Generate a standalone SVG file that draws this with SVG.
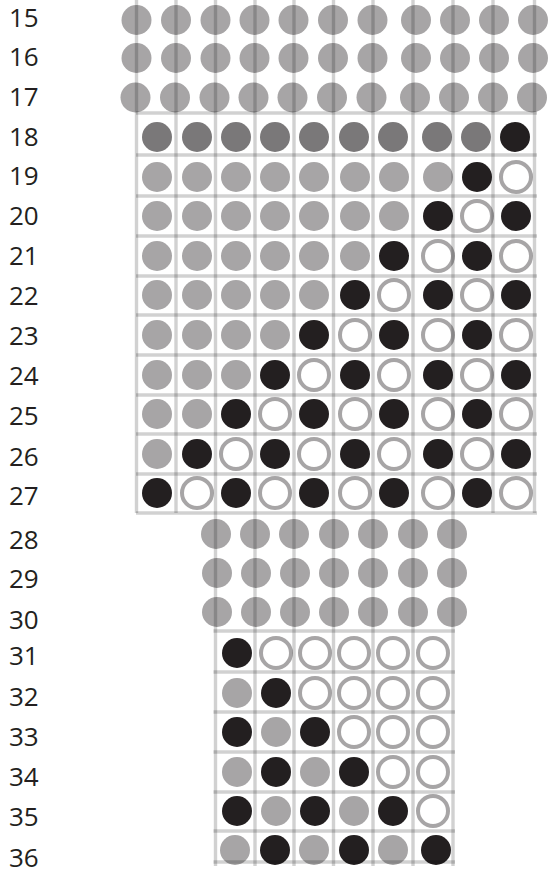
<svg xmlns="http://www.w3.org/2000/svg" width="548" height="874" viewBox="0 0 548 874">
<style>
.lbl{font-family:"Open Sans","Noto Sans","Liberation Sans",sans-serif;font-size:26px;fill:#231f20}
.g{fill:#a7a5a6}
.d{fill:#7a7879}
.b{fill:#231f20}
.o{fill:#ffffff;stroke:#a7a5a6;stroke-width:4}
.ln{stroke:#000000;stroke-opacity:0.18;stroke-width:3.4;fill:none}
</style>
<rect width="548" height="874" fill="#ffffff"/>
<g id="labels">
<text class="lbl" x="9" y="27">15</text>
<text class="lbl" x="9" y="66">16</text>
<text class="lbl" x="9" y="106">17</text>
<text class="lbl" x="9" y="146">18</text>
<text class="lbl" x="9" y="185">19</text>
<text class="lbl" x="9" y="225">20</text>
<text class="lbl" x="9" y="265">21</text>
<text class="lbl" x="9" y="305">22</text>
<text class="lbl" x="9" y="345">23</text>
<text class="lbl" x="9" y="385">24</text>
<text class="lbl" x="9" y="425">25</text>
<text class="lbl" x="9" y="466">26</text>
<text class="lbl" x="9" y="505">27</text>
<text class="lbl" x="9" y="549">28</text>
<text class="lbl" x="9" y="588">29</text>
<text class="lbl" x="9" y="629">30</text>
<text class="lbl" x="9" y="665">31</text>
<text class="lbl" x="9" y="706">32</text>
<text class="lbl" x="9" y="746">33</text>
<text class="lbl" x="9" y="786">34</text>
<text class="lbl" x="9" y="826">35</text>
<text class="lbl" x="9" y="867">36</text>
</g>
<g id="top-rows">
<g id="row15">
<circle class="g" cx="136.5" cy="20" r="15"/><circle class="g" cx="176" cy="20" r="15"/><circle class="g" cx="215.5" cy="20" r="15"/><circle class="g" cx="254.5" cy="20" r="15"/><circle class="g" cx="293.5" cy="20" r="15"/><circle class="g" cx="333" cy="20" r="15"/><circle class="g" cx="372.5" cy="20" r="15"/><circle class="g" cx="416" cy="20" r="15"/><circle class="g" cx="455" cy="20" r="15"/><circle class="g" cx="494" cy="20" r="15"/><circle class="g" cx="533" cy="20" r="15"/>
</g>
<g id="row16">
<circle class="g" cx="136.5" cy="58" r="15"/><circle class="g" cx="176" cy="58" r="15"/><circle class="g" cx="215.5" cy="58" r="15"/><circle class="g" cx="254.5" cy="58" r="15"/><circle class="g" cx="293.5" cy="58" r="15"/><circle class="g" cx="333" cy="58" r="15"/><circle class="g" cx="372.5" cy="58" r="15"/><circle class="g" cx="416" cy="58" r="15"/><circle class="g" cx="455" cy="58" r="15"/><circle class="g" cx="494" cy="58" r="15"/><circle class="g" cx="533" cy="58" r="15"/>
</g>
<g id="row17">
<circle class="g" cx="135.5" cy="97.5" r="15"/><circle class="g" cx="175" cy="97.5" r="15"/><circle class="g" cx="214.5" cy="97.5" r="15"/><circle class="g" cx="253.5" cy="97.5" r="15"/><circle class="g" cx="292.5" cy="97.5" r="15"/><circle class="g" cx="332" cy="97.5" r="15"/><circle class="g" cx="371.5" cy="97.5" r="15"/><circle class="g" cx="415" cy="97.5" r="15"/><circle class="g" cx="454" cy="97.5" r="15"/><circle class="g" cx="493" cy="97.5" r="15"/><circle class="g" cx="532" cy="97.5" r="15"/>
</g>
</g>
<g id="upper-grid">
<g id="row18">
<circle class="d" cx="157" cy="137" r="15"/><circle class="d" cx="197" cy="137" r="15"/><circle class="d" cx="236" cy="137" r="15"/><circle class="d" cx="275" cy="137" r="15"/><circle class="d" cx="314" cy="137" r="15"/><circle class="d" cx="354" cy="137" r="15"/><circle class="d" cx="393" cy="137" r="15"/><circle class="d" cx="437" cy="137" r="15"/><circle class="d" cx="476" cy="137" r="15"/><circle class="b" cx="515" cy="137" r="15"/>
</g>
<g id="row19">
<circle class="g" cx="157" cy="177" r="15"/><circle class="g" cx="197" cy="177" r="15"/><circle class="g" cx="236" cy="177" r="15"/><circle class="g" cx="275" cy="177" r="15"/><circle class="g" cx="314" cy="177" r="15"/><circle class="g" cx="355" cy="177" r="15"/><circle class="g" cx="394" cy="177" r="15"/><circle class="g" cx="438" cy="177" r="15"/><circle class="b" cx="477" cy="177" r="15"/><circle class="o" cx="516" cy="177" r="15"/>
</g>
<g id="row20">
<circle class="g" cx="157" cy="216" r="15"/><circle class="g" cx="197" cy="216" r="15"/><circle class="g" cx="236" cy="216" r="15"/><circle class="g" cx="275" cy="216" r="15"/><circle class="g" cx="314" cy="216" r="15"/><circle class="g" cx="355" cy="216" r="15"/><circle class="g" cx="394" cy="216" r="15"/><circle class="b" cx="438" cy="216" r="15"/><circle class="o" cx="477" cy="216" r="15"/><circle class="b" cx="516" cy="216" r="15"/>
</g>
<g id="row21">
<circle class="g" cx="157" cy="256" r="15"/><circle class="g" cx="197" cy="256" r="15"/><circle class="g" cx="236" cy="256" r="15"/><circle class="g" cx="275" cy="256" r="15"/><circle class="g" cx="314" cy="256" r="15"/><circle class="g" cx="355" cy="256" r="15"/><circle class="b" cx="394" cy="256" r="15"/><circle class="o" cx="438" cy="256" r="15"/><circle class="b" cx="477" cy="256" r="15"/><circle class="o" cx="516" cy="256" r="15"/>
</g>
<g id="row22">
<circle class="g" cx="157" cy="295" r="15"/><circle class="g" cx="197" cy="295" r="15"/><circle class="g" cx="236" cy="295" r="15"/><circle class="g" cx="275" cy="295" r="15"/><circle class="g" cx="314" cy="295" r="15"/><circle class="b" cx="355" cy="295" r="15"/><circle class="o" cx="394" cy="295" r="15"/><circle class="b" cx="438" cy="295" r="15"/><circle class="o" cx="477" cy="295" r="15"/><circle class="b" cx="516" cy="295" r="15"/>
</g>
<g id="row23">
<circle class="g" cx="157" cy="335" r="15"/><circle class="g" cx="197" cy="335" r="15"/><circle class="g" cx="236" cy="335" r="15"/><circle class="g" cx="275" cy="335" r="15"/><circle class="b" cx="314" cy="335" r="15"/><circle class="o" cx="355" cy="335" r="15"/><circle class="b" cx="394" cy="335" r="15"/><circle class="o" cx="438" cy="335" r="15"/><circle class="b" cx="477" cy="335" r="15"/><circle class="o" cx="516" cy="335" r="15"/>
</g>
<g id="row24">
<circle class="g" cx="157" cy="375" r="15"/><circle class="g" cx="197" cy="375" r="15"/><circle class="g" cx="236" cy="375" r="15"/><circle class="b" cx="275" cy="375" r="15"/><circle class="o" cx="314" cy="375" r="15"/><circle class="b" cx="355" cy="375" r="15"/><circle class="o" cx="394" cy="375" r="15"/><circle class="b" cx="438" cy="375" r="15"/><circle class="o" cx="477" cy="375" r="15"/><circle class="b" cx="516" cy="375" r="15"/>
</g>
<g id="row25">
<circle class="g" cx="157" cy="414" r="15"/><circle class="g" cx="197" cy="414" r="15"/><circle class="b" cx="236" cy="414" r="15"/><circle class="o" cx="275" cy="414" r="15"/><circle class="b" cx="314" cy="414" r="15"/><circle class="o" cx="355" cy="414" r="15"/><circle class="b" cx="394" cy="414" r="15"/><circle class="o" cx="438" cy="414" r="15"/><circle class="b" cx="477" cy="414" r="15"/><circle class="o" cx="516" cy="414" r="15"/>
</g>
<g id="row26">
<circle class="g" cx="157" cy="454" r="15"/><circle class="b" cx="197" cy="454" r="15"/><circle class="o" cx="236" cy="454" r="15"/><circle class="b" cx="275" cy="454" r="15"/><circle class="o" cx="314" cy="454" r="15"/><circle class="b" cx="355" cy="454" r="15"/><circle class="o" cx="394" cy="454" r="15"/><circle class="b" cx="438" cy="454" r="15"/><circle class="o" cx="477" cy="454" r="15"/><circle class="b" cx="516" cy="454" r="15"/>
</g>
<g id="row27">
<circle class="b" cx="157" cy="493" r="15"/><circle class="o" cx="197" cy="493" r="15"/><circle class="b" cx="236" cy="493" r="15"/><circle class="o" cx="275" cy="493" r="15"/><circle class="b" cx="314" cy="493" r="15"/><circle class="o" cx="355" cy="493" r="15"/><circle class="b" cx="394" cy="493" r="15"/><circle class="o" cx="438" cy="493" r="15"/><circle class="b" cx="477" cy="493" r="15"/><circle class="o" cx="516" cy="493" r="15"/>
</g>
</g>
<g id="middle-rows">
<g id="row28">
<circle class="g" cx="216" cy="534" r="15"/><circle class="g" cx="255" cy="534" r="15"/><circle class="g" cx="294" cy="534" r="15"/><circle class="g" cx="334" cy="534" r="15"/><circle class="g" cx="373" cy="534" r="15"/><circle class="g" cx="413" cy="534" r="15"/><circle class="g" cx="452" cy="534" r="15"/>
</g>
<g id="row29">
<circle class="g" cx="217" cy="573" r="15"/><circle class="g" cx="256" cy="573" r="15"/><circle class="g" cx="295" cy="573" r="15"/><circle class="g" cx="334" cy="573" r="15"/><circle class="g" cx="373" cy="573" r="15"/><circle class="g" cx="413" cy="573" r="15"/><circle class="g" cx="452" cy="573" r="15"/>
</g>
<g id="row30">
<circle class="g" cx="217" cy="612" r="15"/><circle class="g" cx="256" cy="612" r="15"/><circle class="g" cx="295" cy="612" r="15"/><circle class="g" cx="334" cy="612" r="15"/><circle class="g" cx="373" cy="612" r="15"/><circle class="g" cx="413" cy="612" r="15"/><circle class="g" cx="452" cy="612" r="15"/>
</g>
</g>
<g id="lower-grid">
<g id="row31">
<circle class="b" cx="237" cy="653" r="15"/><circle class="o" cx="276" cy="653" r="15"/><circle class="o" cx="315" cy="653" r="15"/><circle class="o" cx="354" cy="653" r="15"/><circle class="o" cx="393" cy="653" r="15"/><circle class="o" cx="433" cy="653" r="15"/>
</g>
<g id="row32">
<circle class="g" cx="237" cy="693" r="15"/><circle class="b" cx="276" cy="693" r="15"/><circle class="o" cx="315" cy="693" r="15"/><circle class="o" cx="354" cy="693" r="15"/><circle class="o" cx="393" cy="693" r="15"/><circle class="o" cx="433" cy="693" r="15"/>
</g>
<g id="row33">
<circle class="b" cx="237" cy="732" r="15"/><circle class="g" cx="276" cy="732" r="15"/><circle class="b" cx="315" cy="732" r="15"/><circle class="o" cx="354" cy="732" r="15"/><circle class="o" cx="393" cy="732" r="15"/><circle class="o" cx="433" cy="732" r="15"/>
</g>
<g id="row34">
<circle class="g" cx="237" cy="772" r="15"/><circle class="b" cx="276" cy="772" r="15"/><circle class="g" cx="315" cy="772" r="15"/><circle class="b" cx="354" cy="772" r="15"/><circle class="o" cx="393" cy="772" r="15"/><circle class="o" cx="433" cy="772" r="15"/>
</g>
<g id="row35">
<circle class="b" cx="237" cy="811" r="15"/><circle class="g" cx="276" cy="811" r="15"/><circle class="b" cx="315" cy="811" r="15"/><circle class="g" cx="354" cy="811" r="15"/><circle class="b" cx="393" cy="811" r="15"/><circle class="o" cx="433" cy="811" r="15"/>
</g>
<g id="row36">
<circle class="g" cx="235" cy="850" r="15"/><circle class="b" cx="275" cy="850" r="15"/><circle class="g" cx="314" cy="850" r="15"/><circle class="b" cx="354" cy="850" r="15"/><circle class="g" cx="393" cy="850" r="15"/><circle class="b" cx="436" cy="850" r="15"/>
</g>
</g>
<g id="connectors">
<path class="ln" d="M136.5 0V513 M176 0V513 M215.5 0V866 M255 0V866 M294 0V866 M333.5 0V866 M373 0V866 M413 0V866 M453 0V866 M493 0V513 M534.5 0V513"/>
<path class="ln" d="M136 113H537 M136 155H537 M136 196H537 M136 236H537 M136 276H537 M136 315H537 M136 355H537 M136 395H537 M136 434H537 M136 474H537 M136 513H537"/>
<path class="ln" d="M213.5 631H455 M213.5 672H455 M213.5 712H455 M213.5 752H455 M213.5 792H455 M213.5 831H455 M213.5 862H455"/>
</g>
</svg>
